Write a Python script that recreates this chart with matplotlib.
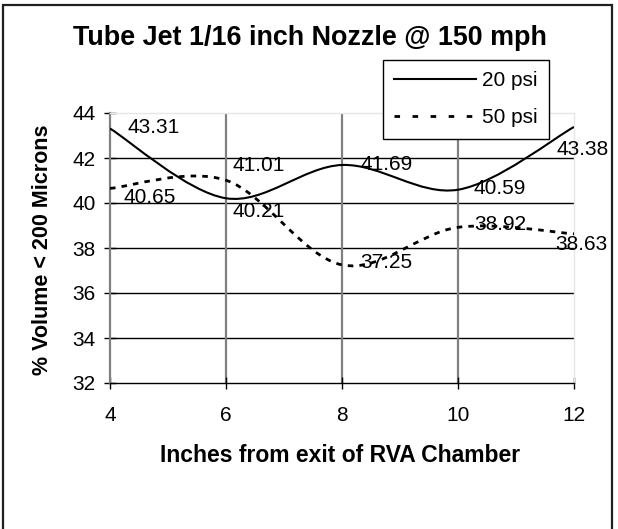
import numpy as np
import matplotlib
matplotlib.use('Agg')
import matplotlib.pyplot as plt
from matplotlib.path import Path
from matplotlib.patches import PathPatch, Rectangle
from matplotlib.lines import Line2D

plt.rcParams['font.family'] = ['Liberation Sans', 'DejaVu Sans']

# data
inches = [4, 6, 8, 10, 12]
psi20 = [43.31, 40.21, 41.69, 40.59, 43.38]
psi50 = [40.65, 41.01, 37.25, 38.92, 38.63]
series_names = ['20 psi', '50 psi']
yticks = [32, 34, 36, 38, 40, 42, 44]
xticks = [4, 6, 8, 10, 12]

# label offsets in pixels (dx, dy), placed by hand like the original
off20 = [(44, 1.5), (33, -13), (45, 0), (42, 1.5), (9, -23)]
off50 = [(40, -9.5), (33, 15), (44, 2), (42, 3), (7, -11)]


def smooth_path(x, y):
    # excel-like smoothed line: catmull-rom turned into cubic beziers
    pts = np.column_stack([x, y]).astype(float)
    ext = np.vstack([pts[0], pts, pts[-1]])
    verts = [pts[0]]
    codes = [Path.MOVETO]
    for i in range(1, len(ext) - 2):
        p0, p1, p2, p3 = ext[i - 1], ext[i], ext[i + 1], ext[i + 2]
        verts += [p1 + (p2 - p0) / 6.0, p2 - (p3 - p1) / 6.0, p2]
        codes += [Path.CURVE4] * 3
    return Path(verts, codes)


fig = plt.figure(figsize=(6.18, 5.29), dpi=100)
ax = fig.add_axes([110/618, 1 - 383/529, 464/618, 270/529])
ax.set_xlim(4, 12)
ax.set_ylim(32, 44)

for v in yticks[1:-1]:
    ax.axhline(v, color='black', lw=1, zorder=1)
for v in xticks[1:-1]:
    ax.axvline(v, color='#808080', lw=1.6, zorder=1)

ax.add_patch(PathPatch(smooth_path(inches, psi20), fill=False, color='black',
                       lw=1.5, zorder=3, capstyle='butt'))
ax.add_patch(PathPatch(smooth_path(inches, psi50), fill=False, color='black',
                       lw=2.0, zorder=3, linestyle=(0, (2, 2.2)), capstyle='butt'))

for x, v, (dx, dy) in zip(inches, psi20, off20):
    ax.annotate(f'{v:.2f}', (x, v), xytext=(dx, dy), textcoords='offset pixels',
                ha='center', va='center', fontsize=15, zorder=4, annotation_clip=False)
for x, v, (dx, dy) in zip(inches, psi50, off50):
    ax.annotate(f'{v:.2f}', (x, v), xytext=(dx, dy), textcoords='offset pixels',
                ha='center', va='center', fontsize=15, zorder=4, annotation_clip=False)

ax.set_xticks(xticks)
ax.set_yticks(yticks)
ax.tick_params(axis='both', labelsize=15, direction='inout', length=9,
               width=1, color='black')
ax.tick_params(axis='y', pad=6)
ax.tick_params(axis='x', pad=12)

ax.spines['left'].set_color('#808080')
ax.spines['left'].set_linewidth(1.6)
ax.spines['bottom'].set_color('black')
ax.spines['bottom'].set_linewidth(1)
for s in ['top', 'right']:
    ax.spines[s].set_color('#e6e6e6')
    ax.spines[s].set_linewidth(1)

fig.text(309.5/618, 1 - 45/529, 'Tube Jet 1/16 inch Nozzle @ 150 mph',
         ha='center', va='baseline', fontsize=19.4, fontweight='bold')
fig.text(340.5/618, 1 - 462/529, 'Inches from exit of RVA Chamber',
         ha='center', va='baseline', fontsize=16.5, fontweight='bold')
fig.text(42.5/618, 1 - 250/529, '% Volume < 200 Microns', rotation=90,
         ha='center', va='center', fontsize=15.5, fontweight='bold')

handles = [Line2D([], [], color='black', lw=1.5),
           Line2D([], [], color='black', lw=2.0, linestyle=(0, (2, 4.5)))]
leg = fig.legend(handles, series_names, loc='upper left',
                 bbox_to_anchor=(383/618, 1 - 60/529), fontsize=15,
                 handlelength=3.9, handletextpad=0.3, labelspacing=0.85,
                 borderpad=0.55, borderaxespad=0, fancybox=False,
                 edgecolor='black', framealpha=1)
leg.get_frame().set_linewidth(1)

# outer chart border (bottom edge runs off the picture)
fig.patches.append(Rectangle((2.5/618, -0.05), 609.5/618, 1.05 - 4.5/529,
                             transform=fig.transFigure, fill=False,
                             edgecolor='#202020', lw=1.6))

fig.savefig('out.png', dpi=100)
